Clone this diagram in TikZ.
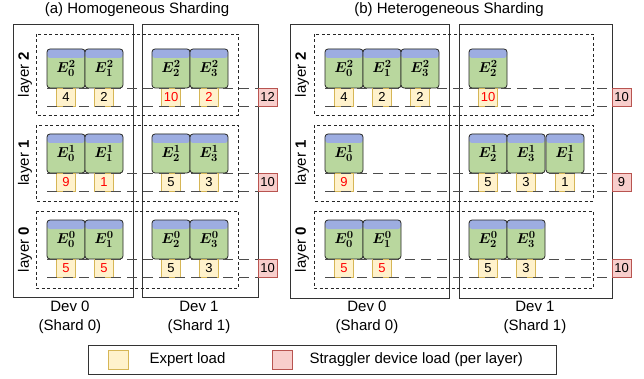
\documentclass[tikz,border=0pt]{standalone}
\usepackage{fontspec}
\setmainfont{Liberation Sans}
\usepackage{xcolor}
\usetikzlibrary{positioning}

\definecolor{expgreen}{RGB}{185,215,158}
\definecolor{expblue}{RGB}{157,173,225}
\definecolor{loadfill}{HTML}{FFF2CC}
\definecolor{loaddraw}{HTML}{D6B656}
\definecolor{stragfill}{HTML}{F8CECC}
\definecolor{stragdraw}{HTML}{B85450}

\newcommand{\ex}[2]{$E^{#1}_{#2}$}

\begin{document}
\begin{tikzpicture}[x=1pt, y=-1pt,
  expert/.style={draw=black!85, fill=expgreen, rounded corners=3pt, line width=0.8pt,
    minimum width=38pt, minimum height=39pt, inner sep=0pt, outer sep=0pt,
    font=\fontsize{15}{15}\selectfont\boldmath,
    path picture={\fill[expblue] (path picture bounding box.north west)
      rectangle ([yshift=-9pt]path picture bounding box.north east);}},
  load/.style={draw=loaddraw, fill=loadfill, line width=0.8pt, minimum width=19pt,
    minimum height=18pt, inner sep=0pt, outer sep=0pt, font=\fontsize{13}{13}\selectfont},
  strag/.style={load, draw=stragdraw, fill=stragfill, anchor=north west},
  devbox/.style={draw=black!80, line width=0.9pt},
  layerbox/.style={draw=black!85, dash pattern=on 3pt off 2.5pt, line width=0.9pt},
  level/.style={draw=black!70, dash pattern=on 10pt off 6pt, line width=0.9pt},
  txt/.style={font=\fontsize{15}{19}\selectfont, align=center}]
\useasboundingbox (0,0) rectangle (644,379);

% titles
\node[txt] (ta) at (137,10) {(a) Homogeneous Sharding};
\node[txt] (tb) at (449,10) {(b) Heterogeneous Sharding};

% devices
\draw[devbox] (13,24) rectangle (133,297);
\draw[devbox] (142,24) rectangle (258,297);
\draw[devbox] (290,24) rectangle (449,298);
\draw[devbox] (459,24) rectangle (612,298);

% layers
\foreach \xa/\xb in {36/238, 314/593} {
  \draw[layerbox] (\xa,34) rectangle (\xb,115);
  \draw[layerbox] (\xa,125) rectangle (\xb,201);
  \draw[layerbox] (\xa,211) rectangle (\xb,288);
}
\foreach \x/\p in {25/a, 302/b} {
  \node[txt, rotate=90] (\p l2) at (\x,74.5) {layer \textbf{2}};
  \node[txt, rotate=90] (\p l1) at (\x,163) {layer \textbf{1}};
  \node[txt, rotate=90] (\p l0) at (\x,249.5) {layer \textbf{0}};
}

% experts and their loads
\foreach \n/\x/\y/\s/\b/\l/\c in {
  a2e0/47/49/2/0/4/black, a2e1/85/49/2/1/2/black, a2e2/152/49/2/2/10/red, a2e3/190/49/2/3/2/red,
  a1e0/47/134/1/0/9/red, a1e1/85/134/1/1/1/red, a1e2/152/134/1/2/5/black, a1e3/190/134/1/3/3/black,
  a0e0/47/220/0/0/5/red, a0e1/85/220/0/1/5/red, a0e2/152/220/0/2/5/black, a0e3/190/220/0/3/3/black,
  b2e0/325/49/2/0/4/black, b2e1/363/49/2/1/2/black, b2e3/401/49/2/3/2/black, b2e2/469/49/2/2/10/red,
  b1e0/325/134/1/0/9/red, b1e2/469/134/1/2/5/black, b1e3/507/134/1/3/3/black, b1e1/546/134/1/1/1/black,
  b0e0/325/220/0/0/5/red, b0e1/363/220/0/1/5/red, b0e2/469/220/0/2/5/black, b0e3/507/220/0/3/3/black} {
  \node[expert, anchor=north west] (\n) at (\x,\y) {\ex{\s}{\b}};
  \node[load, text=\c, below=0pt of \n] (\n l) {\l};
}

% straggler loads
\node[strag] (a2s) at (258,88) {12};
\node[strag] (a1s) at (258,173) {10};
\node[strag] (a0s) at (258,259) {10};
\node[strag] (b2s) at (612,88) {10};
\node[strag] (b1s) at (612,173) {9};
\node[strag] (b0s) at (612,259) {10};

\foreach \p/\l in {a/2, a/1, a/0, b/2, b/1, b/0} {
  \draw[level] (\p\l e0.south west) -- (\p\l s.north west);
  \draw[level] (\p\l e0.south west |- \p\l s.south west) -- (\p\l s.south west);
}

% device names
\node[txt] (da0) at (70,317.5) {Dev 0\\(Shard 0)};
\node[txt] (da1) at (199,317.5) {Dev 1\\(Shard 1)};
\node[txt] (db0) at (367,317.5) {Dev 0\\(Shard 0)};
\node[txt] (db1) at (535,317.5) {Dev 1\\(Shard 1)};

% legend
\draw[draw=black!80, line width=1pt] (88,345) rectangle (556,374);
\node[load, minimum width=20pt, minimum height=19pt] (kload) at (118,360) {};
\node[txt, anchor=west] (tload) at (146,360) {Expert load};
\node[load, draw=stragdraw, fill=stragfill, minimum width=20pt, minimum height=19pt] (kstrag) at (282,360) {};
\node[txt, anchor=west] (tstrag) at (306,360) {Straggler device load (per layer)};
\end{tikzpicture}
\end{document}
